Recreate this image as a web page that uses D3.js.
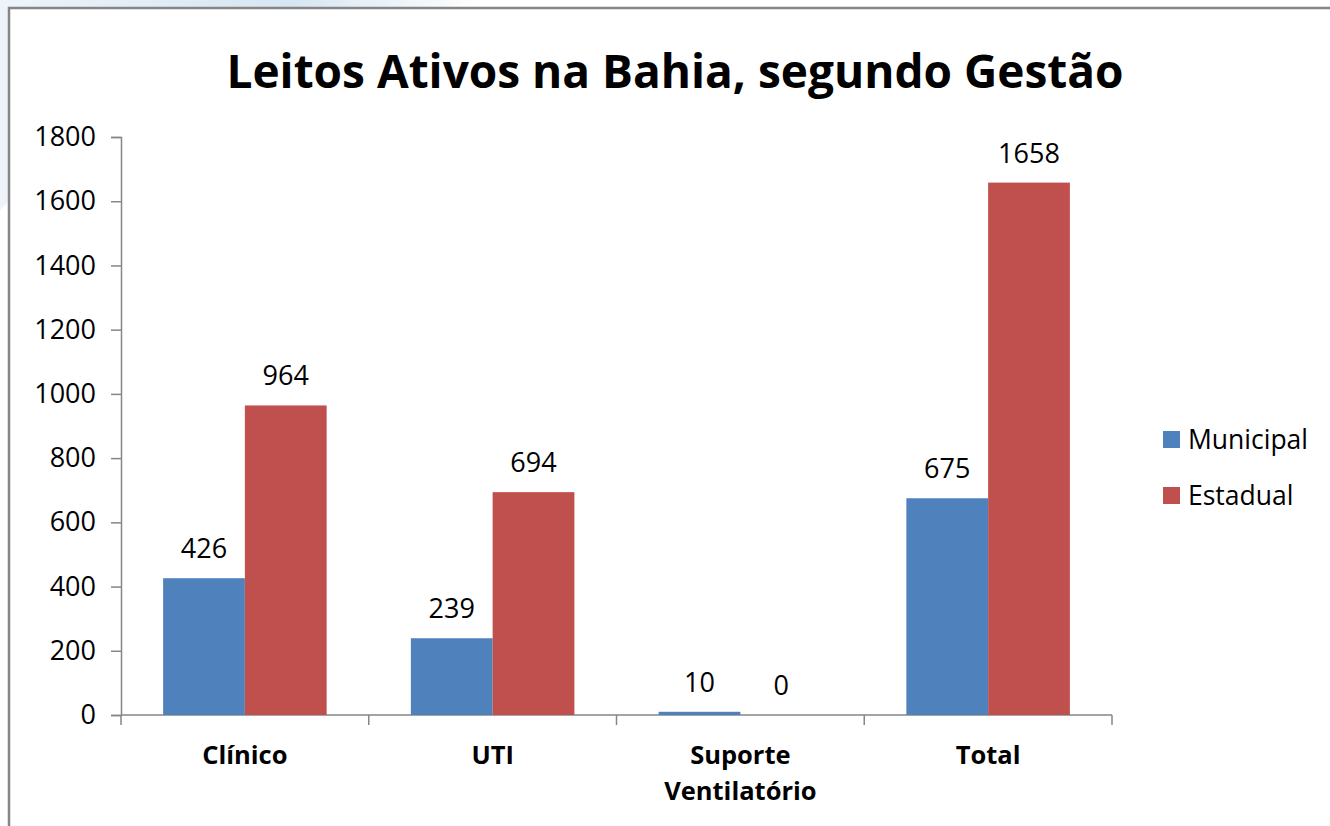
<!DOCTYPE html>
<html>
<head>
<meta charset="utf-8">
<script src="https://cdn.jsdelivr.net/npm/d3@7"></script>
<style>
  body { margin: 0; background: #fff; }
  #chart { width: 1330px; height: 826px; }
  text { font-family: "Open Sans", "Noto Sans", sans-serif; fill: #000; }
</style>
</head>
<body>
<div id="chart"></div>
<script>
// data
var categories = ["Clínico", "UTI", "Suporte Ventilatório", "Total"];
var seriesNames = ["Municipal", "Estadual"];
var municipal = [426, 239, 10, 675];
var estadual = [964, 694, 0, 1658];
var yTicks = [0, 200, 400, 600, 800, 1000, 1200, 1400, 1600, 1800];
var colors = ["#4F81BD", "#C0504D"];

var width = 1330;
var height = 826;

var svg = d3.select("#chart")
  .append("svg")
  .attr("width", width)
  .attr("height", height);

// light blue swoosh in the page background
var defs = svg.append("defs");
var grad = defs.append("linearGradient")
  .attr("id", "bgGrad")
  .attr("x1", "0").attr("y1", "0").attr("x2", "1").attr("y2", "0");
grad.append("stop").attr("offset", "0%").attr("stop-color", "#eef4fa");
grad.append("stop").attr("offset", "60%").attr("stop-color", "#d6e6f2");
grad.append("stop").attr("offset", "100%").attr("stop-color", "#ffffff");

svg.append("path")
  .attr("d", "M0,0 L480,0 L440,9 L10,9 L10,200 L0,210 Z")
  .attr("fill", "url(#bgGrad)");

// chart box border
svg.append("rect")
  .attr("x", 9)
  .attr("y", 8)
  .attr("width", width + 10)
  .attr("height", height + 10)
  .attr("fill", "#fff")
  .attr("stroke", "#858585")
  .attr("stroke-width", 2.5);

// title
svg.append("text")
  .attr("x", 675)
  .attr("y", 88)
  .attr("text-anchor", "middle")
  .attr("font-size", 46)
  .attr("font-weight", "bold")
  .text("Leitos Ativos na Bahia, segundo Gestão");

// scales
var plotLeft = 121, plotRight = 1112, plotTop = 137, plotBottom = 715;

var x0 = d3.scaleBand()
  .domain(categories)
  .range([plotLeft, plotRight])
  .paddingInner(0.34)
  .paddingOuter(0.17);

var x1 = d3.scaleBand()
  .domain(seriesNames)
  .range([0, x0.bandwidth()]);

var yScale = d3.scaleLinear()
  .domain([0, 1800])
  .range([plotBottom, plotTop]);

// y axis
var yAxis = d3.axisLeft(yScale)
  .tickValues(yTicks)
  .tickFormat(d3.format("d"))
  .tickSize(10)
  .tickPadding(15);
var gy = svg.append("g")
  .attr("transform", "translate(" + plotLeft + ",0)")
  .call(yAxis);
gy.selectAll("path, line").attr("stroke", "#868686").attr("stroke-width", 1.5);
gy.selectAll("text")
  .attr("font-size", 27)
  .attr("font-family", "Open Sans, sans-serif")
  .attr("fill", "#000");

// x axis line and category separators
var sepScale = d3.scaleLinear().domain([0, categories.length]).range([plotLeft, plotRight]);
var gx = svg.append("g");
gx.append("line")
  .attr("x1", plotLeft).attr("x2", plotRight)
  .attr("y1", plotBottom).attr("y2", plotBottom)
  .attr("stroke", "#868686").attr("stroke-width", 1.5);
gx.selectAll(".sep")
  .data(d3.range(categories.length + 1))
  .enter()
  .append("line")
  .attr("x1", function (d) { return sepScale(d); })
  .attr("x2", function (d) { return sepScale(d); })
  .attr("y1", plotBottom)
  .attr("y2", plotBottom + 10)
  .attr("stroke", "#868686").attr("stroke-width", 1.5);

// category labels
var catCenter = function (c) { return x0(c) + x0.bandwidth() / 2; };
categories.forEach(function (c) {
  var t = svg.append("text")
    .attr("x", catCenter(c))
    .attr("y", 764)
    .attr("text-anchor", "middle")
    .attr("font-size", 25.5)
    .attr("font-weight", "bold");
  var parts = c === "Suporte Ventilatório" ? ["Suporte", "Ventilatório"] : [c];
  parts.forEach(function (p, i) {
    t.append("tspan")
      .attr("x", catCenter(c))
      .attr("dy", i === 0 ? 0 : 36)
      .text(p);
  });
});

// bars
var rows = categories.map(function (c, i) {
  return { cat: c, values: [municipal[i], estadual[i]] };
});

var groups = svg.selectAll(".group")
  .data(rows)
  .enter()
  .append("g")
  .attr("transform", function (d) { return "translate(" + x0(d.cat) + ",0)"; });

groups.selectAll("rect")
  .data(function (d) {
    return d.values.map(function (v, j) { return { name: seriesNames[j], value: v, idx: j }; });
  })
  .enter()
  .append("rect")
  .attr("x", function (d) { return x1(d.name); })
  .attr("width", x1.bandwidth())
  .attr("y", function (d) { return yScale(d.value); })
  .attr("height", function (d) { return plotBottom - yScale(d.value); })
  .attr("fill", function (d) { return colors[d.idx]; });

groups.selectAll(".val")
  .data(function (d) {
    return d.values.map(function (v, j) { return { name: seriesNames[j], value: v }; });
  })
  .enter()
  .append("text")
  .attr("class", "val")
  .attr("x", function (d) { return x1(d.name) + x1.bandwidth() / 2; })
  .attr("y", function (d) { return yScale(d.value) - 20; })
  .attr("text-anchor", "middle")
  .attr("font-size", 27)
  .text(function (d) { return d.value; });

// legend
var legend = svg.selectAll(".legend")
  .data(seriesNames)
  .enter()
  .append("g")
  .attr("transform", function (d, i) { return "translate(1163," + (431 + i * 56) + ")"; });

legend.append("rect")
  .attr("width", 17)
  .attr("height", 17)
  .attr("fill", function (d, i) { return colors[i]; });

legend.append("text")
  .attr("x", 25)
  .attr("y", 18)
  .attr("font-size", 26.5)
  .text(function (d) { return d; });
</script>
</body>
</html>
